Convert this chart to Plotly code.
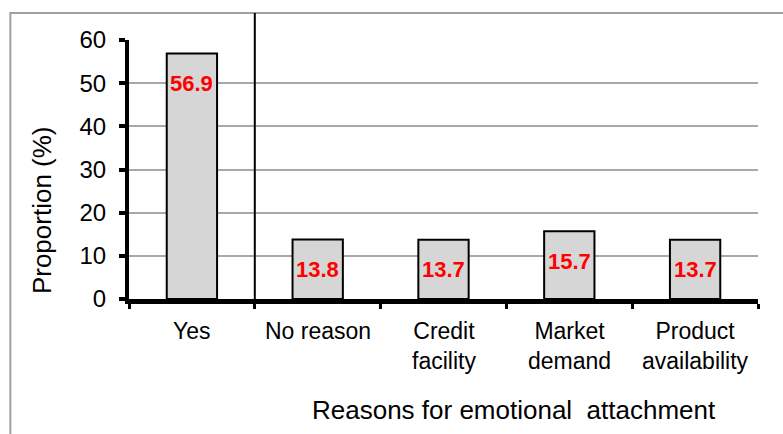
import plotly.graph_objects as go

categories = ["Yes", "No reason", "Credit<br>facility", "Market<br>demand", "Product<br>availability"]
values = [56.9, 13.8, 13.7, 15.7, 13.7]
value_labels = ["56.9", "13.8", "13.7", "15.7", "13.7"]
y_ticks = [0, 10, 20, 30, 40, 50, 60]

FONT = "Liberation Sans, Arial, sans-serif"

fig = go.Figure()
fig.add_trace(go.Bar(
    x=list(range(len(categories))),
    y=values,
    width=0.4,
    marker=dict(color="#d6d6d6", line=dict(color="#000000", width=2)),
    showlegend=False,
    hoverinfo="skip",
))

for i, (v, lab) in enumerate(zip(values, value_labels)):
    fig.add_annotation(
        x=i, y=v, text=f"<b>{lab}</b>", showarrow=False, yshift=-30,
        yanchor="middle", xanchor="center",
        font=dict(family=FONT, size=22, color="#ff0000"),
    )

# category labels under the axis
for i, c in enumerate(categories):
    fig.add_annotation(x=i, y=0, yref="y", text=c, showarrow=False, yanchor="top",
                       yshift=-17, xanchor="center", align="center",
                       font=dict(family=FONT, size=23, color="#000000"))

# y title
fig.add_annotation(
    xref="paper", yref="paper", x=-0.138, y=0.344, text="Proportion (%)",
    showarrow=False, textangle=-90, xanchor="center", yanchor="middle",
    font=dict(family=FONT, size=26, color="#000000"),
)
# x title
fig.add_annotation(
    xref="paper", yref="paper", x=0.612, y=-0.429,
    text="Reasons for emotional&nbsp; attachment",
    showarrow=False, xanchor="center", yanchor="middle",
    font=dict(family=FONT, size=26, color="#000000"),
)

# outer frame (cut off at right and bottom)
fig.add_shape(type="rect", xref="paper", yref="paper",
              x0=-0.1886, x1=1.2, y0=-0.6, y1=1.104,
              line=dict(color="#a0a0a0", width=2), fillcolor="rgba(0,0,0,0)", layer="below")
# separator line between "Yes" and the reasons
fig.add_shape(type="line", xref="x", yref="paper", x0=0.5, x1=0.5, y0=0, y1=1.104,
              line=dict(color="#000000", width=2))

fig.update_layout(
    width=783, height=434,
    margin=dict(l=129, r=25, t=40, b=135),
    paper_bgcolor="white", plot_bgcolor="white",
    xaxis=dict(
        range=[-0.5, 4.5],
        tickmode="array",
        tickvals=[-0.5, 0.5, 1.5, 2.5, 3.5, 4.5], ticktext=["", "", "", "", "", ""],
        showline=True, linecolor="#000000", linewidth=5,
        ticks="outside", ticklen=5, tickwidth=3, tickcolor="#000000",
        showgrid=False, zeroline=False,
        fixedrange=True,
    ),
    yaxis=dict(
        range=[0, 60], tickvals=y_ticks,
        showline=True, linecolor="#000000", linewidth=4,
        ticks="outside", ticklen=6, tickwidth=4, tickcolor="#000000",
        showgrid=True, gridcolor="#a8a8a8", gridwidth=1.5,
        zeroline=False,
        tickfont=dict(family=FONT, size=24, color="#000000"),
        ticklabelstandoff=8,
        fixedrange=True,
    ),
)

fig.write_html("out.html")
